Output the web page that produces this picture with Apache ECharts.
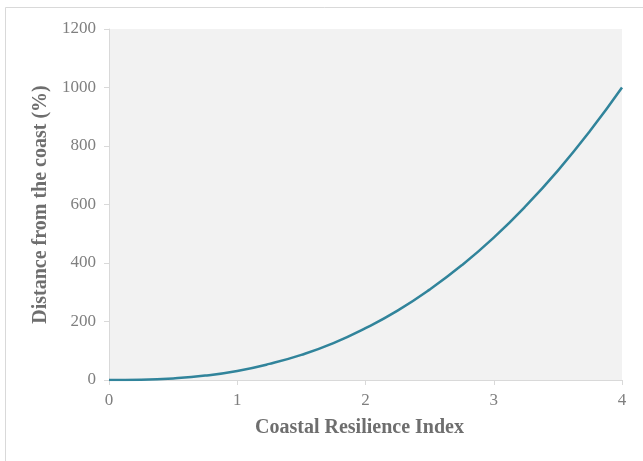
<!DOCTYPE html>
<html>
<head>
<meta charset="utf-8">
<script src="https://cdn.jsdelivr.net/npm/echarts@6/dist/echarts.min.js"></script>
<style>
html, body { margin: 0; padding: 0; background: #fff; }
#chart { width: 643px; height: 461px; }
</style>
</head>
<body>
<div id="chart"></div>
<script>
// values
var xValues = [0, 0.25, 0.5, 0.75, 1, 1.25, 1.5, 1.75, 2, 2.25, 2.5, 2.75, 3, 3.25, 3.5, 3.75, 4];
var yValues = [0, 1, 5.5, 15, 31, 55, 86, 126, 177, 237, 309, 392, 487, 595, 716, 851, 1000];

var xTitle = 'Coastal Resilience Index';
var yTitle = 'Distance from the coast (%)';

var points = [];
for (var i = 0; i < xValues.length; i++) {
    points.push([xValues[i], yValues[i]]);
}

var font = 'Liberation Serif';
var axisGrey = '#d9d9d9';
var labelGrey = '#7f7f7f';
var titleGrey = '#6e6e6e';

var option = {
    backgroundColor: '#fff',
    animation: false,
    graphic: [{
        type: 'rect',
        shape: { x: 5.5, y: 7.5, width: 700, height: 500 },
        style: { fill: 'none', stroke: axisGrey, lineWidth: 1 },
        silent: true
    }],
    grid: {
        left: 109,
        right: 21,
        top: 29,
        bottom: 81,
        show: true,
        backgroundColor: '#f2f2f2',
        borderWidth: 0
    },
    xAxis: {
        type: 'value',
        min: 0,
        max: 4,
        interval: 1,
        name: xTitle,
        nameLocation: 'middle',
        nameGap: 38,
        nameTextStyle: { fontFamily: font, fontSize: 20, fontWeight: 'bold', color: titleGrey, padding: [0, 12, 0, 0] },
        axisLine: { show: true, lineStyle: { color: axisGrey, width: 1 } },
        axisTick: { show: true, length: 5, lineStyle: { color: axisGrey } },
        axisLabel: { fontFamily: font, fontSize: 17, color: labelGrey, margin: 12 },
        splitLine: { show: false }
    },
    yAxis: {
        type: 'value',
        min: 0,
        max: 1200,
        interval: 200,
        name: yTitle,
        nameLocation: 'middle',
        nameGap: 56,
        nameTextStyle: { fontFamily: font, fontSize: 20, fontWeight: 'bold', color: titleGrey },
        axisLine: { show: true, lineStyle: { color: axisGrey, width: 1 } },
        axisTick: { show: true, length: 5, lineStyle: { color: axisGrey } },
        axisLabel: {
            fontFamily: font, fontSize: 17, color: labelGrey, margin: 13,
            formatter: function (v) { return String(v); }
        },
        splitLine: { show: false }
    },
    series: [{
        type: 'line',
        data: points,
        smooth: true,
        showSymbol: false,
        lineStyle: { color: '#31849b', width: 2.5 }
    }]
};

var myChart = echarts.init(document.getElementById('chart'));
myChart.setOption(option);
</script>
</body>
</html>
